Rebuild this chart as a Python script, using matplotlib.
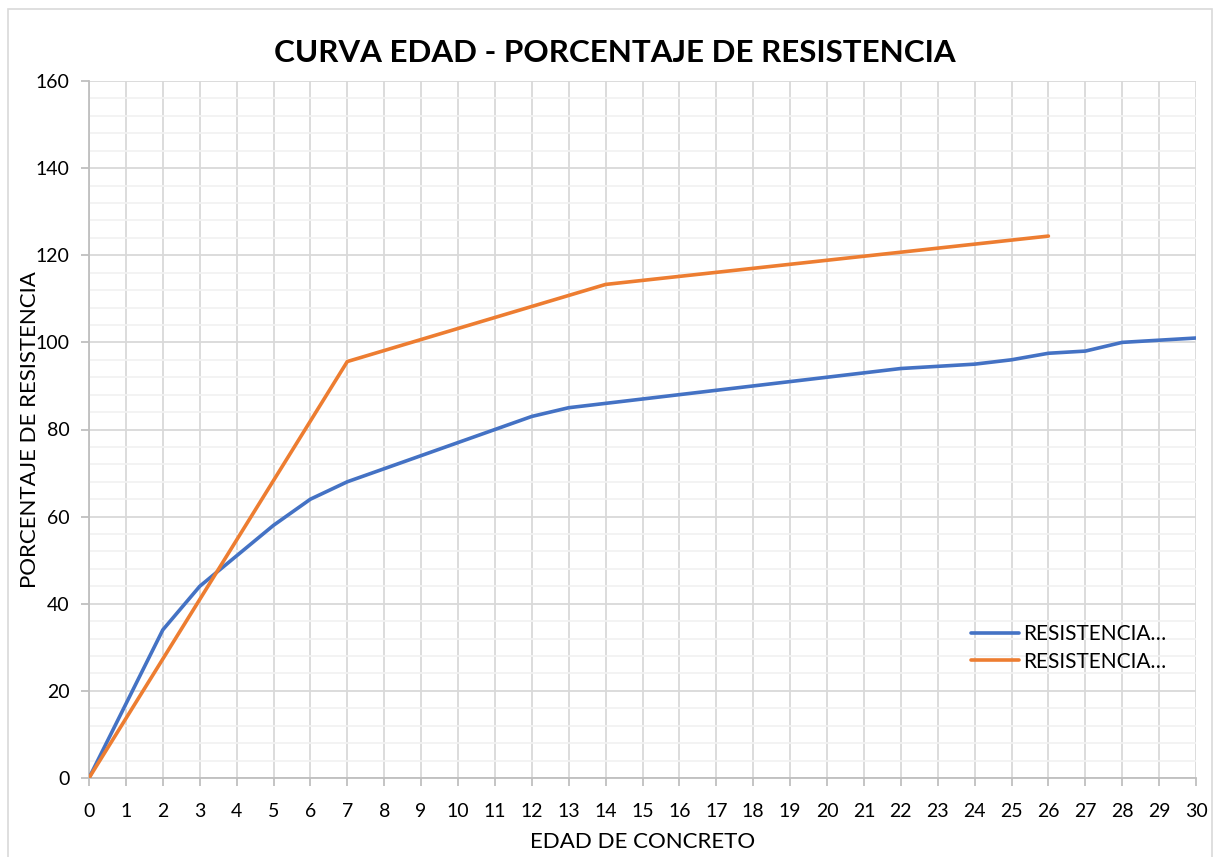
import matplotlib
matplotlib.use("Agg")
import matplotlib.pyplot as plt
from matplotlib.patches import Rectangle

# datos
edad_azul = list(range(0, 31))
resist_azul = [0, 17, 34, 44, 51, 58, 64, 68, 71, 74, 77, 80, 83, 85, 86, 87,
               88, 89, 90, 91, 92, 93, 94, 94.5, 95, 96, 97.5, 98, 100, 100.5, 101]
edad_naranja = [0, 7, 14, 26]
resist_naranja = [0, 95.6, 113.3, 124.4]
etiquetas = ["RESISTENCIA\u2026", "RESISTENCIA\u2026"]

plt.rcParams['font.family'] = ['Lato', 'DejaVu Sans']

W, H = 1218, 857
fig = plt.figure(figsize=(W / 100, H / 100), dpi=100)
ax = fig.add_axes([89 / W, 1 - 778 / H, (1196 - 89) / W, (778 - 81) / H])

# borde del area del grafico
fig.patches.append(Rectangle((8 / W, -0.05), (1212 - 8) / W, 1 - 9 / H + 0.05,
                             transform=fig.transFigure, fill=False,
                             edgecolor='#d9d9d9', linewidth=1.2))

ax.plot(edad_azul, resist_azul, color='#4472C4', linewidth=2.6,
        label=etiquetas[0], solid_capstyle='round', zorder=3)
ax.plot(edad_naranja, resist_naranja, color='#ED7D31', linewidth=2.6,
        label=etiquetas[1], solid_capstyle='round', zorder=3)

ax.set_xlim(0, 30)
ax.set_ylim(0, 160)
ax.set_xticks(range(0, 31))
ax.set_yticks(range(0, 161, 20))
ax.set_yticks(range(0, 161, 4), minor=True)

ax.grid(which='major', color='#d9d9d9', linewidth=1.3)
ax.grid(which='minor', axis='y', color='#f2f2f2', linewidth=1.3)
ax.set_axisbelow(True)

for s in ['top', 'right']:
    ax.spines[s].set_visible(False)
for s in ['left', 'bottom']:
    ax.spines[s].set_color('#bfbfbf')
    ax.spines[s].set_linewidth(1.3)

ax.tick_params(which='major', length=6, width=1.3, color='#bfbfbf',
               labelsize=14, labelcolor='black')
ax.tick_params(axis='x', pad=12)
ax.tick_params(axis='y', pad=8)
ax.tick_params(which='minor', length=0)

ax.set_xlabel('EDAD DE CONCRETO', fontsize=16, labelpad=9)
# en el original la etiqueta del eje Y pisa el numero 100
fig.text(30 / W, 1 - 430 / H, 'PORCENTAJE DE RESISTENCIA', rotation=90,
         fontsize=16, ha='center', va='center')

fig.text(615 / W, 1 - 53 / H, 'CURVA EDAD - PORCENTAJE DE RESISTENCIA',
         fontsize=22.6, fontweight='bold', ha='center', va='center')

ax.legend(loc='upper left', bbox_to_anchor=(961 / W, 1 - 614 / H),
          bbox_transform=fig.transFigure, frameon=False, fontsize=15,
          handlelength=2.3, handletextpad=0.2, labelspacing=0.35,
          borderpad=0)

fig.savefig('out.png', dpi=100)
